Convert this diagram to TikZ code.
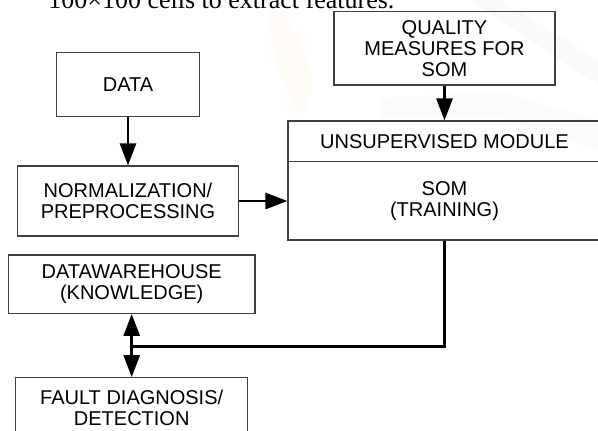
\documentclass[tikz,border=0pt]{standalone}
\usepackage{fontspec}
\setmainfont{Liberation Serif}
\setsansfont{Liberation Sans}
\usepackage{tikz}
\usetikzlibrary{shapes,arrows.meta,positioning,calc}

\begin{document}
\begin{tikzpicture}[>={Triangle[length=11pt,width=8pt]},x=0.5pt,y=-0.5pt]

\tikzstyle{block} = [draw=black!75, line width=0.6pt, rectangle, align=center, inner sep=0pt, font={\sffamily\fontsize{10}{10.5}\selectfont}];
\tikzstyle{flowEdgePortion} = [black, line width=1.4pt];
\tikzstyle{flowEdge} = [flowEdgePortion,->];
\tikzstyle{bothEdge} = [flowEdgePortion,<->];
\tikzstyle{watermark} = [opacity=0.25];

\useasboundingbox (0,0) rectangle (598,430);

% faint logo behind the figure
\fill[watermark, orange!10] (265,0) .. controls (300,20) and (330,90) .. (300,115) .. controls (280,90) and (270,40) .. (265,0);
\fill[watermark, black!8] (470,0) -- (500,0) -- (598,60) -- (598,85) -- cycle;
\fill[watermark, black!6] (380,98) -- (500,92) -- (598,120) -- (598,150) -- (500,118) -- (380,118) -- cycle;

% text of the page above the figure
\node[name=pagetext, anchor=base west, inner sep=0pt, font={\fontsize{13}{14}\selectfont}] at (48,8) {100×100 cells to extract features.};

\node[block, name=data, minimum width=71.3pt, minimum height=32pt] at (128,84.7) {DATA};
\node[block, name=norm, below of=data, node distance=58.15pt, minimum width=110.5pt, minimum height=35pt] {NORMALIZATION/\\PREPROCESSING};
\node[block, name=quality, minimum width=110.5pt, minimum height=36.65pt] at (444.5,48.3) {QUALITY\\MEASURES FOR\\SOM};
\node[block, name=unsup, below of=quality, node distance=46.55pt, minimum width=156.5pt, minimum height=20.35pt] {UNSUPERVISED MODULE};
\node[block, name=som, below of=unsup, node distance=29.75pt, minimum width=156.5pt, minimum height=39.15pt] {SOM\\(TRAINING)};
\node[block, name=dw, minimum width=123.35pt, minimum height=29.15pt] at (131.7,284.2) {DATAWAREHOUSE\\(KNOWLEDGE)};
\node[block, name=fault, below of=dw, node distance=61.75pt, minimum width=115.85pt, minimum height=30pt] {FAULT DIAGNOSIS/\\DETECTION};
\coordinate (junction) at (131.7,346.7);

\draw[flowEdge] (data) -- (norm);
\draw[flowEdge] (quality) -- (unsup);
\draw[flowEdge] (norm.east) -- (norm.east -| som.west);
\draw[flowEdgePortion] (som.south) |- (junction);
\draw[bothEdge] (dw.south) -- (dw.south |- fault.north);
\end{tikzpicture}
\end{document}
